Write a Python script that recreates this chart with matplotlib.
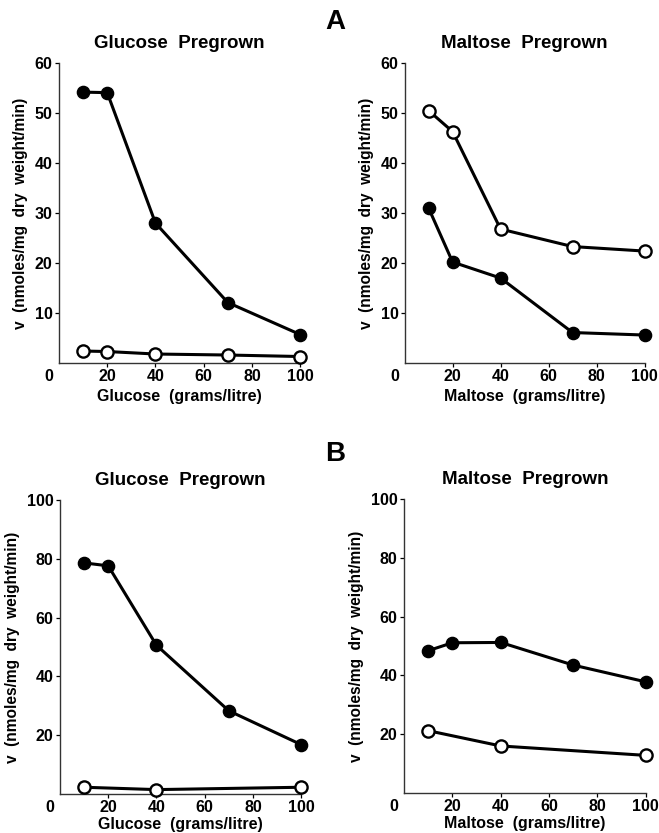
import matplotlib
matplotlib.use("Agg")
from matplotlib import pyplot as plt

plt.rcParams['font.family'] = ['Liberation Sans', 'DejaVu Sans']
plt.rcParams['font.weight'] = 'bold'

# sugar concentration (grams/litre)
conc = [10, 20, 40, 70, 100]
conc_b_open = [10, 40, 100]

# panel A
a_glc_filled = [54.2, 54.1, 28.0, 12.1, 5.7]
a_glc_open = [2.4, 2.3, 1.8, 1.6, 1.3]
a_mal_open = [50.5, 46.3, 26.8, 23.3, 22.4]
a_mal_filled = [31.0, 20.2, 17.0, 6.1, 5.6]

# panel B
b_glc_filled = [78.6, 77.6, 50.6, 28.3, 16.8]
b_glc_open = [2.3, 1.5, 2.3]
b_mal_filled = [48.4, 51.1, 51.2, 43.5, 37.8]
b_mal_open = [21.2, 16.0, 12.8]

ylabel = 'v  (nmoles/mg  dry  weight/min)'

fig = plt.figure(figsize=(6.59, 8.33), dpi=100)
axes = {
    'tl': fig.add_axes([0.0895, 0.5642, 0.366, 0.360]),
    'tr': fig.add_axes([0.614, 0.5642, 0.364, 0.360]),
    'bl': fig.add_axes([0.0910, 0.0468, 0.366, 0.353]),
    'br': fig.add_axes([0.613, 0.0480, 0.367, 0.353]),
}


def style(ax, title, xlab, ymax, yticks, xpad=3.5):
    ax.set_xlim(0, 100)
    ax.set_ylim(0, ymax)
    ax.set_xticks([20, 40, 60, 80, 100])
    ax.set_yticks(yticks)
    for s in ['top', 'right']:
        ax.spines[s].set_visible(False)
    for s in ['left', 'bottom']:
        ax.spines[s].set_linewidth(1.0)
        ax.spines[s].set_color('#333333')
    ax.tick_params(direction='out', length=3, width=0.9, labelsize=11.5, pad=1.5)
    ax.set_title(title, fontsize=13.5, fontweight='bold', pad=11)
    ax.set_xlabel(xlab, fontsize=11.5, fontweight='bold', labelpad=xpad)
    ax.set_ylabel(ylabel, fontsize=11.2, fontweight='bold', labelpad=5)
    ax.annotate('0', xy=(0, 0), xycoords='data', xytext=(-7, -4.5),
                textcoords='offset points', ha='center', va='top',
                fontsize=11.5, fontweight='bold')


def filled(ax, x, y):
    ax.plot(x, y, '-', color='black', lw=2.2, marker='o', ms=8.8,
            mfc='black', mec='black', zorder=3, clip_on=False)


def hollow(ax, x, y):
    ax.plot(x, y, '-', color='black', lw=2.2, marker='o', ms=8.8,
            mfc='white', mec='black', mew=1.7, zorder=4, clip_on=False)


ax = axes['tl']
style(ax, 'Glucose  Pregrown', 'Glucose  (grams/litre)', 60, [10, 20, 30, 40, 50, 60])
filled(ax, conc, a_glc_filled)
hollow(ax, conc, a_glc_open)

ax = axes['tr']
style(ax, 'Maltose  Pregrown', 'Maltose  (grams/litre)', 60, [10, 20, 30, 40, 50, 60])
filled(ax, conc, a_mal_filled)
hollow(ax, conc, a_mal_open)

ax = axes['bl']
style(ax, 'Glucose  Pregrown', 'Glucose  (grams/litre)', 100, [20, 40, 60, 80, 100], xpad=1)
filled(ax, conc, b_glc_filled)
hollow(ax, conc_b_open, b_glc_open)

ax = axes['br']
style(ax, 'Maltose  Pregrown', 'Maltose  (grams/litre)', 100, [20, 40, 60, 80, 100], xpad=1)
filled(ax, conc, b_mal_filled)
hollow(ax, conc_b_open, b_mal_open)

fig.text(335 / 659, 1 - 22 / 833, 'A', fontsize=20, fontweight='heavy',
         ha='center', va='center')
fig.text(335 / 659, 1 - 454 / 833, 'B', fontsize=20, fontweight='heavy',
         ha='center', va='center')

fig.savefig('out.png', dpi=100)
